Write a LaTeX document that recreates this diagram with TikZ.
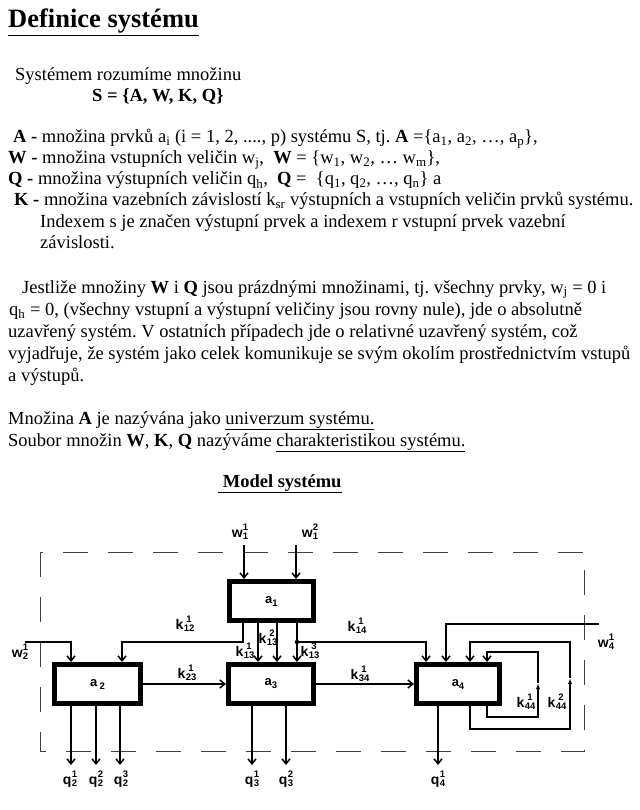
\documentclass[tikz,border=0pt]{standalone}
\usepackage{fontspec}
\setmainfont{Liberation Serif}
\setsansfont{Liberation Sans}
\usetikzlibrary{arrows.meta}
\newcommand\lbl[3]{#1\hspace{0.3pt}\raisebox{-2pt}{\fontsize{9.5}{10}\selectfont\begin{tabular}[b]{@{}c@{}}#2\\[-1pt]#3\end{tabular}}}
\newcommand\lsub[2]{#1\raisebox{-3pt}{\fontsize{9.5}{10}\selectfont #2}}
\newcommand\tsb[1]{\textsubscript{#1}}
\begin{document}
\begin{tikzpicture}[x=1pt,y=-1pt,
  arr/.style={-{Straight Barb[length=5pt,width=8pt]}, line width=1.5pt},
  midarr/.style={-{Latex[length=6pt,width=4pt]}, line width=1.5pt},
  box/.style={draw, line width=5pt, inner sep=0pt, font=\sffamily\bfseries\fontsize{13}{15}\selectfont},
  lab/.style={inner sep=0pt, font=\sffamily\bfseries\fontsize{14}{16}\selectfont},
  txt/.style={anchor=base west, inner sep=0pt, font=\fontsize{18.5}{22}\selectfont\frenchspacing},
  sysbox/.style={draw=black!75, line width=0.8pt, dash pattern=on 25pt off 20pt}]
\useasboundingbox (0,0) rectangle (639,810);
% ---------- text ----------
\node[txt, font=\fontsize{26.5}{30}\selectfont\bfseries] (title) at (8,28) {\underline{Definice systému}};
\node[txt] (t1) at (15,80.5) {Systémem rozumíme množinu};
\node[txt] (t2) at (92,101.5) {\textbf{S = \{A, W, K, Q\}}};
\node[txt] (t3) at (13,143) {\textbf{A -} množina prvků a\tsb{i} (i = 1, 2, ...., p) systému S, tj. \textbf{A} =\{a\tsb{1}, a\tsb{2}, …, a\tsb{p}\},};
\node[txt] (t4) at (8,164) {\textbf{W -} množina vstupních veličin w\tsb{j},\ \ \textbf{W} = \{w\tsb{1}, w\tsb{2}, … w\tsb{m}\},};
\node[txt] (t5) at (8,185) {\textbf{Q -} množina výstupních veličin q\tsb{h},\ \ \textbf{Q} =\ \ \{q\tsb{1}, q\tsb{2}, …, q\tsb{n}\} a};
\node[txt] (t6) at (14,206) {\textbf{K -} množina vazebních závislostí k\tsb{sr} výstupních a vstupních veličin prvků systému.};
\node[txt] (t7) at (40,227) {Indexem s je značen výstupní prvek a indexem r vstupní prvek vazební};
\node[txt] (t8) at (40,248) {závislosti.};
\node[txt] (t9) at (22,293) {Jestliže množiny \textbf{W} i \textbf{Q} jsou prázdnými množinami, tj. všechny prvky, w\tsb{j} = 0 i};
\node[txt] (t10) at (9,315) {q\tsb{h} = 0, (všechny vstupní a výstupní veličiny jsou rovny nule), jde o absolutně};
\node[txt] (t11) at (8,337) {uzavřený systém. V ostatních případech jde o relativné uzavřený systém, což};
\node[txt] (t12) at (8,359) {vyjadřuje, že systém jako celek komunikuje se svým okolím prostřednictvím vstupů};
\node[txt] (t13) at (8,381) {a výstupů.};
\node[txt] (t14) at (8,424) {Množina \textbf{A} je nazývána jako \underline{univerzum systému.}};
\node[txt] (t15) at (8,446) {Soubor množin \textbf{W}, \textbf{K}, \textbf{Q} nazýváme \underline{charakteristikou systému.}};
\node[txt] (t16) at (218,487) {\textbf{\underline{ Model systému}}};
% ---------- system boundary ----------
\draw[sysbox] (40.5,552) rectangle (584.5,751.5);
% ---------- elements ----------
\node[box, minimum width=84pt, minimum height=39pt] (a1) at (271.5,601) {\lsub{a}{1}};
\node[box, minimum width=86pt, minimum height=39pt] (a2) at (97.5,684) {\lsub{a\,}{2}};
\node[box, minimum width=85pt, minimum height=39pt] (a3) at (271,684) {\lsub{a}{3}};
\node[box, minimum width=83pt, minimum height=39pt] (a4) at (458,684) {\lsub{a}{4}};
% ---------- coordinates ----------
\coordinate (w11s) at (244,545);
\coordinate (w12s) at (296,545);
\coordinate (k12a) at (243,642);
\coordinate (k12b) at (122,642);
\coordinate (c131) at (258,642);
\coordinate (c132) at (277,642);
\coordinate (c133) at (297,642);
\coordinate (k14b) at (426,642);
\coordinate (w2s) at (25,642);
\coordinate (w2b) at (71,642);
\coordinate (w4s) at (599,624);
\coordinate (w4b) at (446,624);
\coordinate (i1) at (487,717);
\coordinate (i2) at (538,717);
\coordinate (i3) at (538,683);
\coordinate (i4) at (538,652);
\coordinate (i5) at (487,652);
\coordinate (o1) at (470,729);
\coordinate (o2) at (570,729);
\coordinate (o3) at (570,678);
\coordinate (o4) at (570,642);
\coordinate (o5) at (470,642);
\coordinate (q21) at (71,765);
\coordinate (q22) at (96,765);
\coordinate (q23) at (120,765);
\coordinate (q31) at (252,765);
\coordinate (q32) at (286,765);
\coordinate (q41) at (438,765);
% ---------- connectors ----------
\draw[arr] (w11s) -- (w11s |- a1.north);
\draw[arr] (w12s) -- (w12s |- a1.north);
\draw[arr] (k12a |- a1.south) -- (k12a) -- (k12b) -- (k12b |- a2.north);
\draw[arr] (c131 |- a1.south) -- (c131 |- a3.north);
\draw[arr] (c132 |- a1.south) -- (c132 |- a3.north);
\draw[arr] (c133 |- a1.south) -- (c133 |- a3.north);
\fill (c133) circle (2.2pt);
\draw[arr] (c133) -- (k14b) -- (k14b |- a4.north);
\draw[arr] (w2s) -- (w2b) -- (w2b |- a2.north);
\draw[arr] (w4s) -- (w4b) -- (w4b |- a4.north);
\draw[arr] (a2.east) -- (a3.west);
\draw[arr] (a3.east) -- (a4.west);
\draw[midarr] (i1 |- a4.south) -- (i1) -- (i2) -- (i3);
\draw[arr] (i3) -- (i4) -- (i5) -- (i5 |- a4.north);
\draw[midarr] (o1 |- a4.south) -- (o1) -- (o2) -- (o3);
\draw[arr] (o3) -- (o4) -- (o5) -- (o5 |- a4.north);
\draw[arr] (q21 |- a2.south) -- (q21);
\draw[arr] (q22 |- a2.south) -- (q22);
\draw[arr] (q23 |- a2.south) -- (q23);
\draw[arr] (q31 |- a3.south) -- (q31);
\draw[arr] (q32 |- a3.south) -- (q32);
\draw[arr] (q41 |- a4.south) -- (q41);
% ---------- labels ----------
\node[lab] (lw11) at (240,533) {\lbl{w}{1}{1}};
\node[lab] (lw12) at (310,533) {\lbl{w}{2}{1}};
\node[lab] (lk12) at (185,625) {\lbl{k}{1}{12}};
\node[lab] (lk131) at (245,652) {\lbl{k}{1}{13}};
\node[lab] (lk132) at (268,639) {\lbl{k}{2}{13}};
\node[lab] (lk133) at (310,652) {\lbl{k}{3}{13}};
\node[lab] (lk14) at (357,627) {\lbl{k}{1}{14}};
\node[lab] (lw4) at (606,643) {\lbl{w}{1}{4}};
\node[lab] (lw2) at (20,653) {\lbl{w}{1}{2}};
\node[lab] (lk23) at (187,674) {\lbl{k}{1}{23}};
\node[lab] (lk34) at (360,675) {\lbl{k}{1}{34}};
\node[lab] (lk441) at (526,703) {\lbl{k}{1}{44}};
\node[lab] (lk442) at (557,703) {\lbl{k}{2}{44}};
\node[lab] (lq21) at (70,780) {\lbl{q}{1}{2}};
\node[lab] (lq22) at (96,780) {\lbl{q}{2}{2}};
\node[lab] (lq23) at (121,780) {\lbl{q}{3}{2}};
\node[lab] (lq31) at (252,780) {\lbl{q}{1}{3}};
\node[lab] (lq32) at (286,780) {\lbl{q}{2}{3}};
\node[lab] (lq41) at (438,780) {\lbl{q}{1}{4}};
\end{tikzpicture}
\end{document}
